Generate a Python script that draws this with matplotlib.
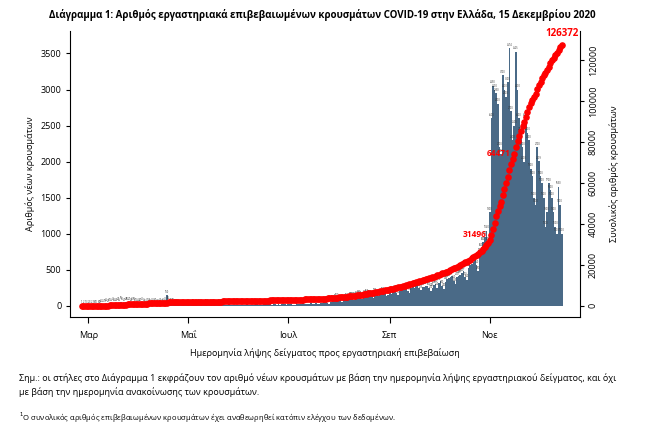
import numpy as np
import pandas as pd
import matplotlib
matplotlib.use("Agg")
import matplotlib.pyplot as plt

feb = [1,2,1,3]
mar = [2,3,2,5,6,10,8,12,20,25,15,30,22,40,35,45,30,38,42,35,55,45,40,48,50,42,38,45,50,40,35]
apr = [30,40,45,35,25,32,28,20,30,35,40,25,20,28,22,30,45,150,60,40,38,30,20,15,12,10,8,10,9,8]
may = [10,12,8,15,10,12,20,14,9,8,12,15,18,10,8,14,12,10,9,25,16,12,10,8,15,20,12,18,10,8,14]
jun = [10,15,12,8,18,25,10,12,14,16,20,30,15,12,18,20,25,30,40,20,15,22,25,18,20,15,30,25,20,12]
jul = [20,25,30,15,18,35,25,22,28,40,30,20,25,30,35,28,20,45,30,25,35,40,50,55,45,30,60,70,80,90,100]
aug = [70,75,60,80,85,100,95,120,110,80,120,135,140,130,100,120,140,160,145,150,135,110,170,150,130,145,165,180,170,140,150]
sep = [180,170,200,210,180,150,200,220,225,230,240,210,180,250,265,245,280,290,245,215,260,265,280,270,250,210,245,285,300,250]
oct_ = [320,350,280,240,335,370,385,400,415,350,305,400,415,430,450,480,400,360,520,560,575,610,640,560,480,720,800,880,960,1040,880]
nov = [1300,2600,3050,3000,2950,2800,2200,2100,3200,3000,2900,3100,3574,2700,2300,2500,3525,3000,2600,2400,2200,2000,2600,2400,2300,1900,1800,1500,1400,2200]
dec = [2009,1800,1700,1500,1100,1300,1700,1600,1500,1300,1100,1000,1650,1400,1000]

daily = np.array(feb+mar+apr+may+jun+jul+aug+sep+oct_+nov+dec)
dates = pd.date_range("2020-02-26", periods=len(daily), freq="D")
cum = np.cumsum(daily)

annot_labels = ["31496", "64471", "126372"]
annot_dates = ["2020-10-30", "2020-11-14", "2020-12-15"]
tick_dates = ["2020-03-01", "2020-05-01", "2020-07-01", "2020-09-01", "2020-11-01"]
tick_labels = ["Μαρ", "Μαΐ", "Ιουλ", "Σεπ", "Νοε"]

plt.rcParams["font.family"] = "Open Sans"
fig = plt.figure(figsize=(6.45, 4.37), dpi=100)
ax = fig.add_axes([0.109, 0.275, 0.79, 0.655])
ax.bar(dates, daily, width=1.0, color="#4a6a87")
for d, v in zip(dates, daily):
    ax.text(d, v + 20, str(v), fontsize=1.8, ha="center", va="bottom", color="#333333")
ax.set_ylim(-152, 3817)
ax.set_xlim(pd.Timestamp("2020-02-19"), pd.Timestamp("2020-12-26"))
ax.set_yticks([0, 500, 1000, 1500, 2000, 2500, 3000, 3500])
ax.tick_params(axis="y", labelsize=6.5, length=3)
ax.set_xticks(pd.to_datetime(tick_dates))
ax.set_xticklabels(tick_labels, fontsize=6.5)
ax.tick_params(axis="x", length=4, pad=6)
ax.set_ylabel("Αριθμός νέων κρουσμάτων", fontsize=6.5)
ax.set_xlabel("Ημερομηνία λήψης δείγματος προς εργαστηριακή επιβεβαίωση", fontsize=6.5, labelpad=6)
for s in ["top", "right"]:
    ax.spines[s].set_visible(False)

ax2 = ax.twinx()
ax2.scatter(dates, cum, s=14, color="red", zorder=3)
ax2.set_ylim(-5366, 134600)
ax2.set_yticks([0, 20000, 40000, 60000, 80000, 100000, 120000])
ax2.tick_params(axis="y", labelsize=6.5, labelrotation=90, length=3)
for t in ax2.get_yticklabels():
    t.set_va("center")
ax2.set_ylabel("Συνολικός αριθμός κρουσμάτων", fontsize=6.5, labelpad=8)
for s in ["top", "left", "bottom"]:
    ax2.spines[s].set_visible(False)
cum_s = pd.Series(cum, index=dates)
for lab, d in zip(annot_labels, annot_dates):
    dd = pd.Timestamp(d)
    ax2.text(dd, cum_s[dd] + 3000, lab, color="red", fontsize=7 if lab == "126372" else 6,
             fontweight="bold", ha="right" if lab != "126372" else "center", va="bottom")

fig.text(0.5, 0.958, "Διάγραμμα 1: Αριθμός εργαστηριακά επιβεβαιωμένων κρουσμάτων COVID-19 στην Ελλάδα, 15 Δεκεμβρίου 2020",
         ha="center", fontsize=7, fontweight="bold")
fig.text(0.03, 0.118, "Σημ.: οι στήλες στο Διάγραμμα 1 εκφράζουν τον αριθμό νέων κρουσμάτων με βάση την ημερομηνία λήψης εργαστηριακού δείγματος, και όχι\nμε βάση την ημερομηνία ανακοίνωσης των κρουσμάτων.",
         fontsize=6.5, va="center", linespacing=1.5)
fig.text(0.03, 0.045, "$^1$Ο συνολικός αριθμός επιβεβαιωμένων κρουσμάτων έχει αναθεωρηθεί κατόπιν ελέγχου των δεδομένων.",
         fontsize=5.5, va="center")
fig.savefig("out.png", dpi=100)
